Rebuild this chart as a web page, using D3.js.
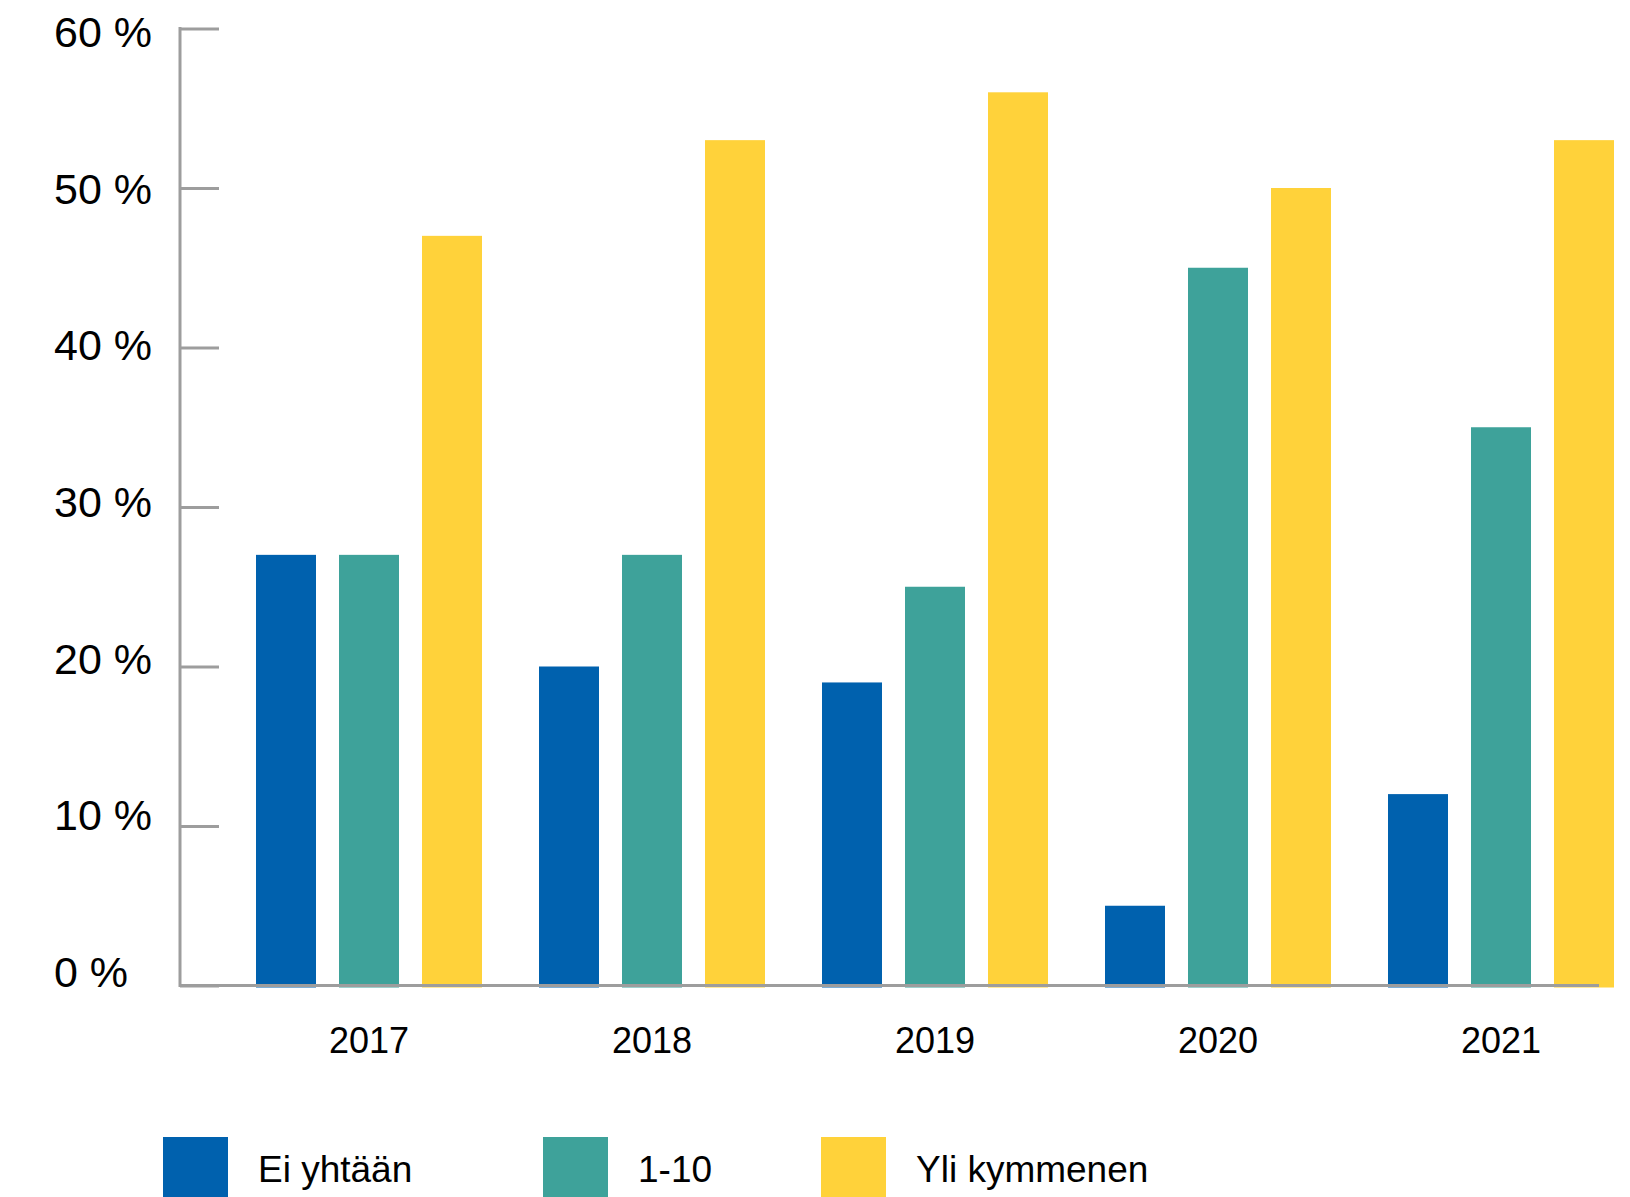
<!DOCTYPE html>
<html>
<head>
<meta charset="utf-8">
<script src="https://cdn.jsdelivr.net/npm/d3@7"></script>
<style>
  body { margin: 0; background: #fff; }
  text { font-family: "Liberation Sans", Arial, Helvetica, sans-serif; fill: #000; }
</style>
</head>
<body>
<svg id="chart"></svg>
<script>
// Data
const years = ['2017', '2018', '2019', '2020', '2021'];
const series = ['Ei yhtään', '1-10', 'Yli kymmenen'];
const eiYhtaan = [27, 20, 19, 5, 12];
const yksiKymmenen = [27, 27, 25, 45, 35];
const yliKymmenen = [47, 53, 56, 50, 53];
const yTicks = [0, 10, 20, 30, 40, 50, 60];

const colors = ['#0061ae', '#3ea29a', '#ffd23a'];
const values = [eiYhtaan, yksiKymmenen, yliKymmenen];

const width = 1630, height = 1197;

const svg = d3.select('#chart')
  .attr('width', width)
  .attr('height', height);

// Scales
const x0 = d3.scaleBand()
  .domain(years)
  .range([256, 1614])
  .paddingInner(57 / 283)
  .paddingOuter(0);
const x1 = d3.scaleBand()
  .domain(series)
  .range([0, x0.bandwidth()])
  .paddingInner(23 / 83)
  .paddingOuter(0);
const y = d3.scaleLinear()
  .domain([0, 60])
  .range([985.5, 28.5]);
// tick labels sit on a slightly wider spacing than the ticks themselves
const yLabel = d3.scaleLinear()
  .domain([0, 60])
  .range([987, 47]);

// Bars
const rows = [];
years.forEach((yr, i) => {
  series.forEach((s, j) => rows.push({ year: yr, key: s, value: values[j][i], color: colors[j] }));
});

svg.append('g')
  .selectAll('rect')
  .data(rows)
  .join('rect')
  .attr('x', d => x0(d.year) + x1(d.key))
  .attr('y', d => y(d.value))
  .attr('width', x1.bandwidth())
  .attr('height', d => y(0) + 2 - y(d.value))
  .attr('fill', d => d.color);

// Y axis (ticks pointing into the plot)
const yAxis = svg.append('g')
  .attr('transform', 'translate(180,0)')
  .call(d3.axisRight(y).tickValues(yTicks).tickSize(39).tickFormat(''));
yAxis.select('.domain').remove();
yAxis.selectAll('line').attr('stroke', '#9d9d9d').attr('stroke-width', 3);
svg.append('line')
  .attr('x1', 180).attr('x2', 180)
  .attr('y1', y(60) - 1.5).attr('y2', y(0) + 1.5)
  .attr('stroke', '#9d9d9d').attr('stroke-width', 3);

// X baseline
svg.append('line')
  .attr('x1', 180).attr('x2', 1599)
  .attr('y1', y(0)).attr('y2', y(0))
  .attr('stroke', '#9d9d9d').attr('stroke-width', 3);

// Y labels
svg.append('g')
  .selectAll('text')
  .data(yTicks)
  .join('text')
  .attr('x', 54)
  .attr('y', d => yLabel(d))
  .attr('font-size', 43)
  .text(d => `${d} %`);

// X labels
svg.append('g')
  .selectAll('text')
  .data(years)
  .join('text')
  .attr('x', d => x0(d) + x0.bandwidth() / 2)
  .attr('y', 1053)
  .attr('text-anchor', 'middle')
  .attr('font-size', 36)
  .text(d => d);

// Legend
const legendX = [163, 543, 821];
const legend = svg.append('g')
  .selectAll('g')
  .data(series)
  .join('g')
  .attr('transform', (d, i) => `translate(${legendX[i]},1137)`);
legend.append('rect')
  .attr('width', 65)
  .attr('height', 65)
  .attr('fill', (d, i) => colors[i]);
legend.append('text')
  .attr('x', 95)
  .attr('y', 45)
  .attr('font-size', 37)
  .text(d => d);
</script>
</body>
</html>
